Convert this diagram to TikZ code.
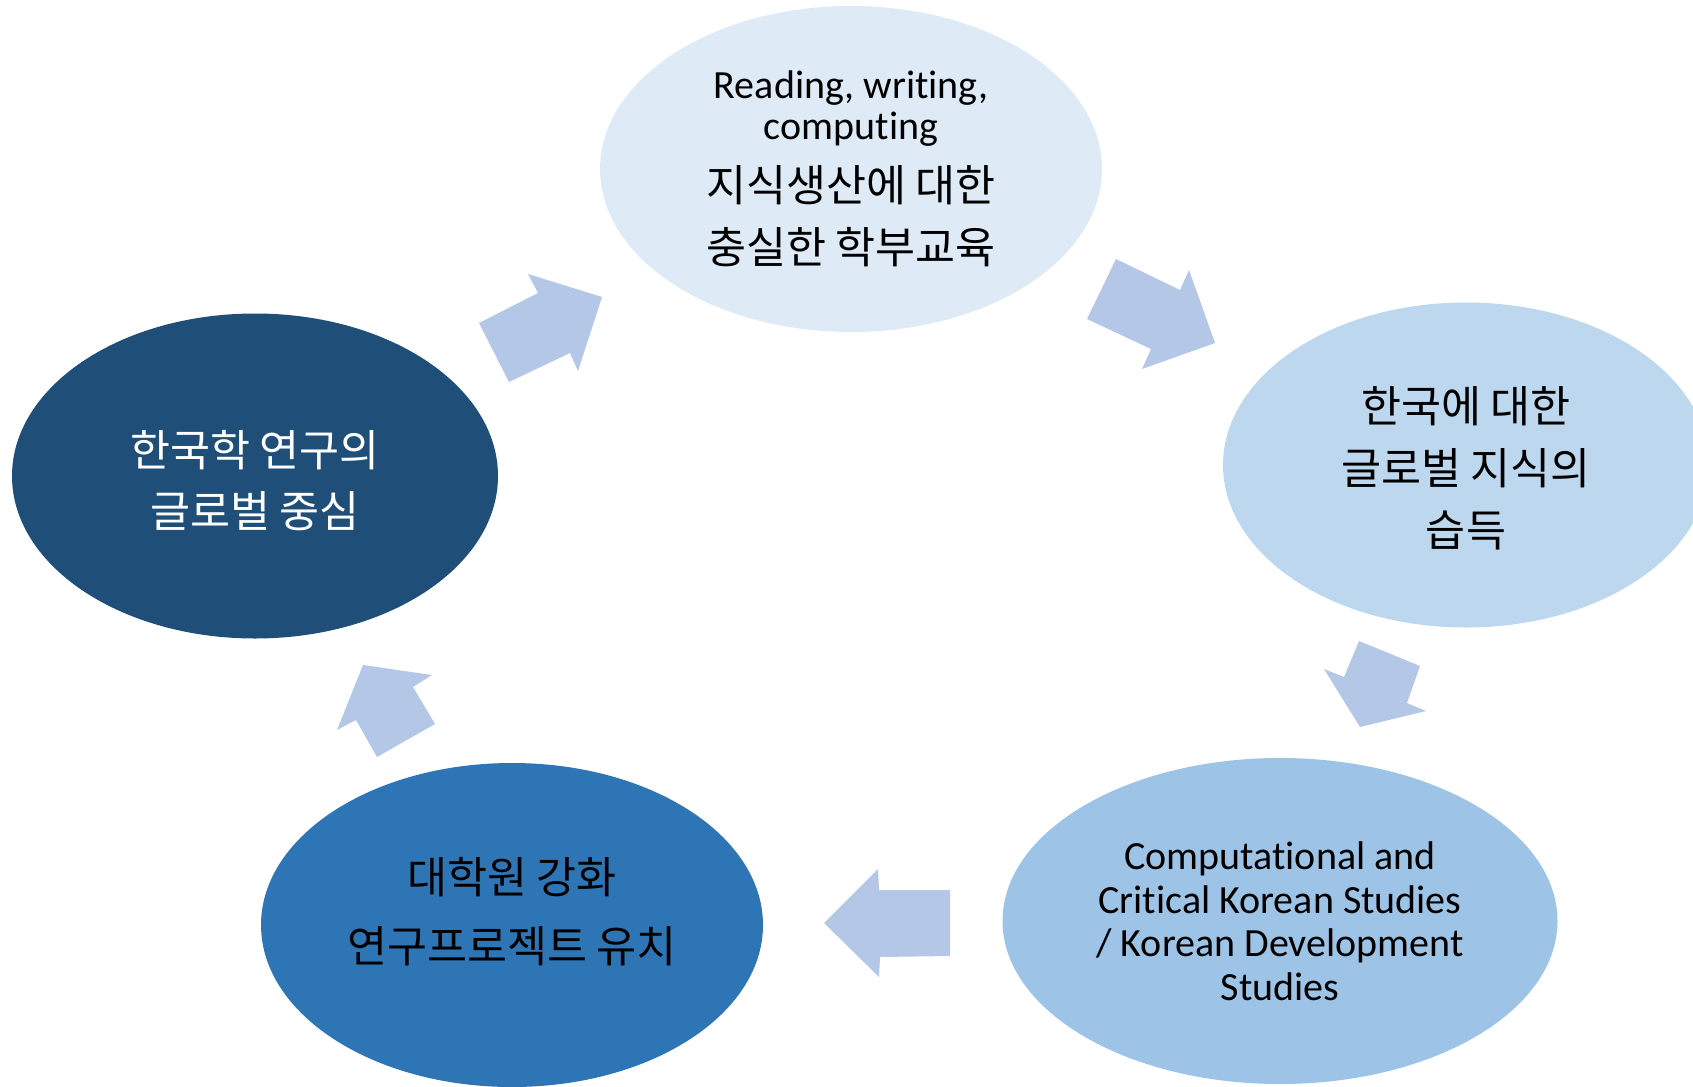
\documentclass[tikz,border=0pt]{standalone}
\usepackage{fontspec}
\setmainfont[Ligatures=NoCommon]{Carlito}
\newfontfamily\kr{Noto Sans CJK KR}
\usetikzlibrary{shapes.geometric}
\definecolor{arrowc}{HTML}{B4C7E7}
\definecolor{ctop}{HTML}{DEEBF7}
\definecolor{cright}{HTML}{BDD7EE}
\definecolor{cbr}{HTML}{9DC3E6}
\definecolor{cbl}{HTML}{2E75B6}
\definecolor{cleft}{HTML}{1F4E79}
\newcommand{\EN}[1]{\fontsize{40}{#1}\selectfont}
\newcommand{\KR}[1]{\kr\fontsize{43.5}{#1}\selectfont}
\newcommand{\ctext}[1]{\parbox{480pt}{\centering #1}}
\tikzset{
  oval/.style={ellipse, inner sep=0pt},
  ovaltext/.style={inner sep=0pt, text=black},
  blockarrow/.style={fill=arrowc, draw=none},
}
\begin{document}
\begin{tikzpicture}[x=1pt,y=-1pt]
\useasboundingbox (0,0) rectangle (1693,1086);
\clip (0,0) rectangle (1693,1086);
% ellipses
\node[oval, fill=ctop, minimum width=502pt, minimum height=326pt,
      label={[name=toptext, ovaltext]center:\ctext{\EN{41}Reading, writing,\\computing\\\KR{62}지식생산에 대한\\충실한 학부교육}}] (top) at (851,169) {};
\node[oval, fill=cright, minimum width=486pt, minimum height=325pt,
      label={[name=righttext, ovaltext, yshift=-3pt]center:\ctext{\KR{62}한국에 대한\\글로벌 지식의\\습득}}] (right) at (1466,465) {};
\node[oval, fill=cbr, minimum width=555pt, minimum height=326pt,
      label={[name=brtext, ovaltext]center:\ctext{\EN{43.5}Computational and\\Critical Korean Studies\\/ Korean Development\\Studies}}] (br) at (1280,921) {};
\node[oval, fill=cbl, minimum width=502pt, minimum height=324pt,
      label={[name=bltext, ovaltext, yshift=13pt]center:\ctext{\KR{69}대학원 강화\\연구프로젝트 유치}}] (bl) at (512,925) {};
\node[oval, fill=cleft, minimum width=486pt, minimum height=325pt,
      label={[name=lefttext, ovaltext, text=white, yshift=-5pt]center:\ctext{\KR{61}한국학 연구의\\글로벌 중심}}] (left) at (255,476) {};
% block arrows
\fill[blockarrow] (479,323) -- (509,382) -- (570,353) -- (578,371) -- (602,297) -- (528,274) -- (538,293) -- cycle;
\fill[blockarrow] (1116,259) -- (1087,319) -- (1151,349) -- (1142,369) -- (1215,343) -- (1189,270) -- (1180,290) -- cycle;
\fill[blockarrow] (1359,641) -- (1420,666) -- (1407,703) -- (1426,711) -- (1360,727) -- (1324,669) -- (1344,677) -- cycle;
\fill[blockarrow] (950,890) -- (950,956) -- (880,957) -- (879,977) -- (824,923) -- (878,869) -- (879,890) -- cycle;
\fill[blockarrow] (435,724) -- (377,757) -- (356,720) -- (337,730) -- (363,665) -- (432,675) -- (413,687) -- cycle;
\end{tikzpicture}
\end{document}
